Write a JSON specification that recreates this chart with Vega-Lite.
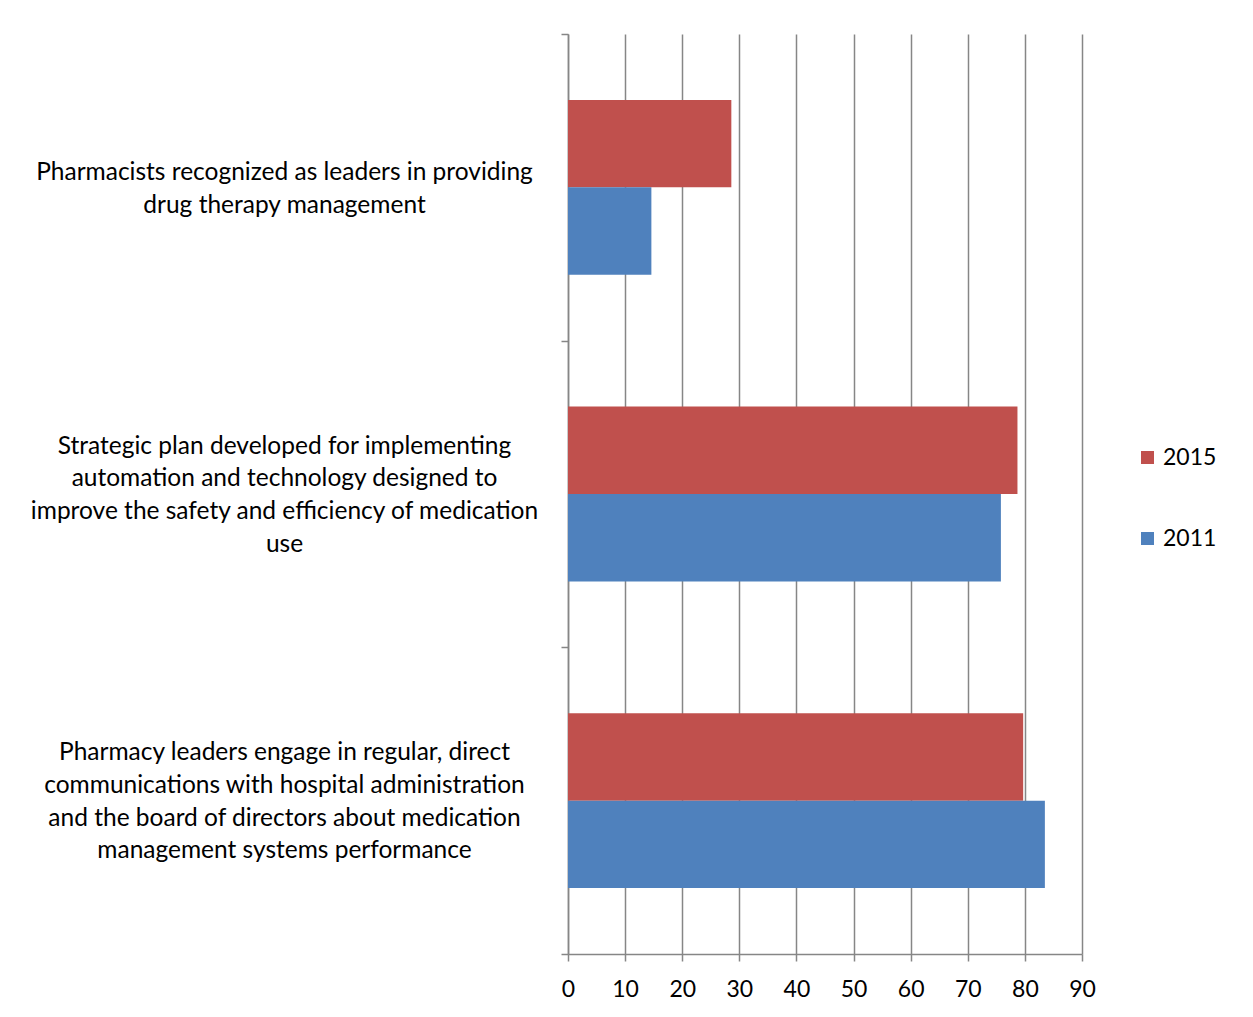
{
  "$schema": "https://vega.github.io/schema/vega-lite/v6.json",
  "width": 514,
  "height": 920,
  "autosize": {"type": "none"},
  "padding": {"left": 568, "top": 34, "right": 171, "bottom": 63},
  "background": "white",
  "config": {"view": {"stroke": null}, "font": "Lato"},
  "data": {
    "values": [
      {"item": "Pharmacists recognized as leaders in providing|drug therapy management", "year": "2015", "value": 28.6},
      {"item": "Pharmacists recognized as leaders in providing|drug therapy management", "year": "2011", "value": 14.6},
      {"item": "Strategic plan developed for implementing|automation and technology designed to|improve the safety and efficiency of medication|use", "year": "2015", "value": 78.7},
      {"item": "Strategic plan developed for implementing|automation and technology designed to|improve the safety and efficiency of medication|use", "year": "2011", "value": 75.8},
      {"item": "Pharmacy leaders engage in regular, direct|communications with hospital administration|and the board of directors about medication|management systems performance", "year": "2015", "value": 79.7},
      {"item": "Pharmacy leaders engage in regular, direct|communications with hospital administration|and the board of directors about medication|management systems performance", "year": "2011", "value": 83.5}
    ]
  },
  "mark": {"type": "bar"},
  "encoding": {
    "y": {
      "field": "item",
      "type": "nominal",
      "sort": null,
      "scale": {"paddingInner": 0, "paddingOuter": 0},
      "axis": {
        "title": null,
        "labelExpr": "split(datum.label, '|')",
        "labelAlign": "center",
        "labelBaseline": "middle",
        "labelPadding": 277,
        "labelLimit": 700,
        "labelFontSize": 24.5,
        "labelLineHeight": 32.7,
        "labelColor": "black",
        "labelOffset": {
          "condition": {"test": "length(split(datum.value, '|')) == 4", "value": -48},
          "value": -15
        },
        "tickBand": "extent",
        "tickSize": 7,
        "tickColor": "#868686",
        "tickWidth": 1.5,
        "domainColor": "#868686",
        "domainWidth": 1.5
      }
    },
    "yOffset": {
      "field": "year",
      "type": "nominal",
      "sort": ["2015", "2011"],
      "scale": {"paddingOuter": 0.754, "paddingInner": 0}
    },
    "x": {
      "field": "value",
      "type": "quantitative",
      "scale": {"domain": [0, 90], "nice": false},
      "axis": {
        "title": null,
        "values": [0, 10, 20, 30, 40, 50, 60, 70, 80, 90],
        "grid": true,
        "gridColor": "#868686",
        "gridWidth": 1.5,
        "tickColor": "#868686",
        "tickWidth": 1.5,
        "tickSize": 7,
        "domainColor": "#868686",
        "domainWidth": 1.5,
        "labelFontSize": 23,
        "labelColor": "black",
        "labelPadding": 17,
        "labelFlush": false
      }
    },
    "color": {
      "field": "year",
      "type": "nominal",
      "scale": {"domain": ["2015", "2011"], "range": ["#C0504D", "#4F81BD"]},
      "legend": {
        "title": null,
        "orient": "none",
        "legendX": 568,
        "legendY": 412,
        "symbolType": "square",
        "symbolSize": 169,
        "symbolStrokeWidth": 0,
        "labelFontSize": 23,
        "labelColor": "black",
        "rowPadding": 57,
        "labelOffset": 4
      }
    }
  }
}
